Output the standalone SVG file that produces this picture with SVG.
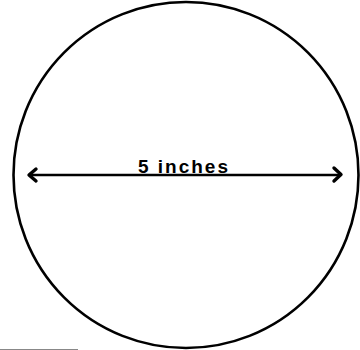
<svg xmlns="http://www.w3.org/2000/svg" width="360" height="350" viewBox="0 0 360 350">
<style>
.outline{fill:none;stroke:#000;stroke-width:2.6}
.conn{fill:none;stroke:#000;stroke-width:2.4}
.head{fill:none;stroke:#000;stroke-width:3.4;stroke-linecap:round;stroke-linejoin:round}
.lbl{font-family:"Liberation Sans",Arial,sans-serif;font-weight:bold;font-size:19px;fill:#000}
</style>
<rect width="360" height="350" fill="#fff"/>
<g id="circle">
<ellipse class="outline" cx="186" cy="175" rx="172.5" ry="173"/>
</g>
<g id="connectors">
<line class="conn" x1="29" y1="175" x2="341" y2="175"/>
<polyline class="head" points="36,169 29,175 36,181"/>
<polyline class="head" points="334,168 341,174.5 334,181"/>
</g>
<g id="label">
<text class="lbl" x="138" y="173" textLength="90" lengthAdjust="spacing">5 inches</text>
</g>
<line x1="0" y1="349.5" x2="78" y2="349.5" stroke="#888" stroke-width="1"/>
</svg>
